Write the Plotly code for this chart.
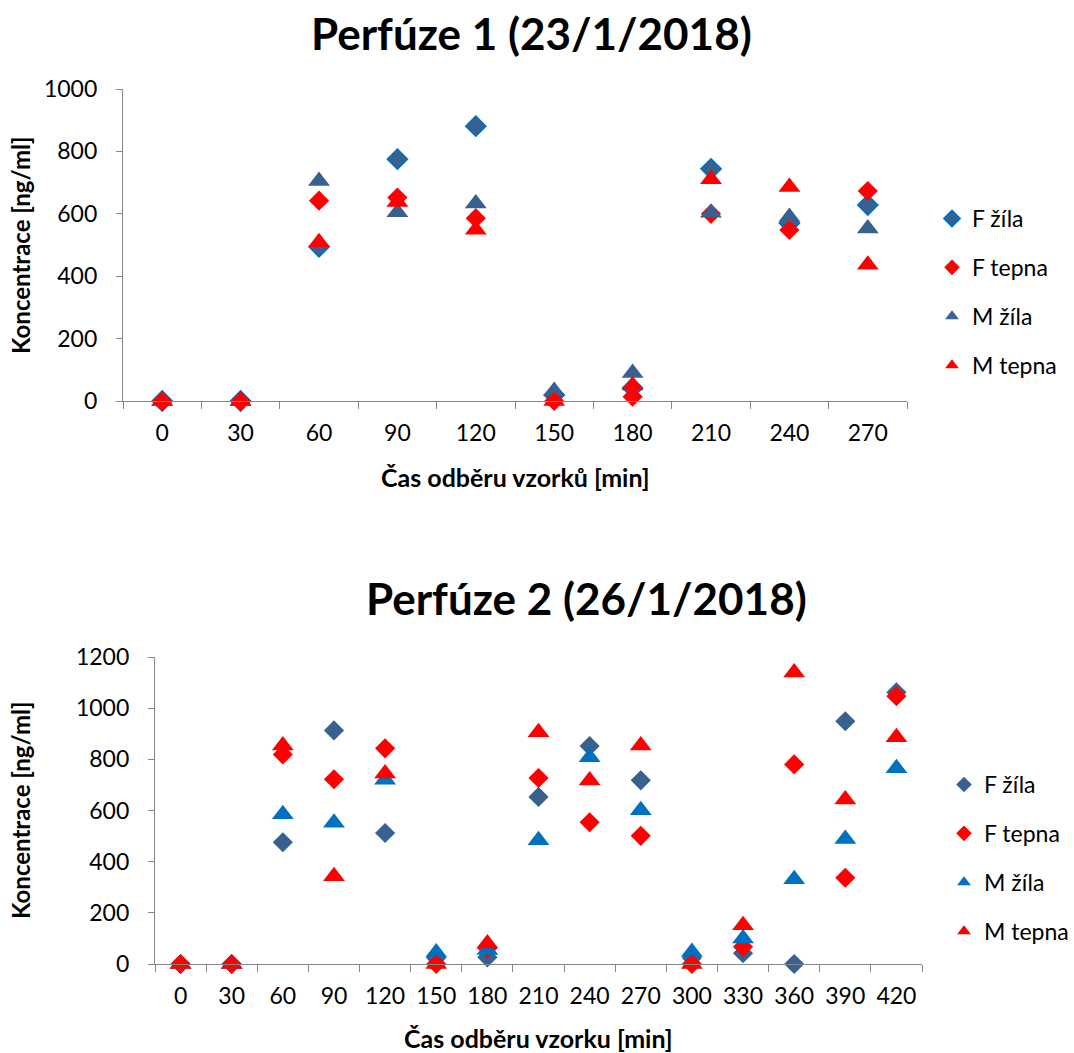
import plotly.graph_objects as go

# ---- Perfúze 1 (23/1/2018) ----
times_1 = ["0", "30", "60", "90", "120", "150", "180", "210", "240", "270"]
f_zila_1 = [0, 0, 494, 775, 881, 19, 42, 744, 570, 628]
f_tepna_1 = [0, 0, 642, 652, 586, 0, 14, 600, 548, 673]
m_zila_1 = [0, 0, 705, 605, 633, 32, 90, 603, 590, 553]
m_tepna_1 = [0, 0, 509, 638, 549, 0, 50, 711, 686, 437]

# ---- Perfúze 2 (26/1/2018) ----
times_2 = ["0", "30", "60", "90", "120", "150", "180", "210", "240", "270",
           "300", "330", "360", "390", "420"]
f_zila_2 = [0, 0, 476, 913, 512, 23, 26, 653, 852, 718, 23, 42, 0, 949, 1062]
f_tepna_2 = [0, 0, 819, 722, 843, 0, 62, 727, 554, 501, 0, 67, 780, 337, 1047]
m_zila_2 = [0, 0, 585, 552, 720, 45, 55, 484, 808, 601, 47, 100, 331, 489, 765]
m_tepna_2 = [0, 0, 854, 343, 745, 0, 80, 906, 717, 854, 0, 151, 1139, 643, 886]

W, H = 1074, 1053
FONT = "Lato"
AXIS_GREY = "#868686"
DARK_BLUE = "#38618F"
BRIGHT_BLUE = "#0070C0"
RED = "#FF0000"
DIAMOND = 15.5
TRIANGLE = 19


def fx(px):
    return px / W


def fy(px):
    return 1 - px / H


fig = go.Figure()

top_series = [
    ("F žíla", f_zila_1, dict(symbol="diamond", size=DIAMOND, color=DARK_BLUE,
                              line=dict(color=BRIGHT_BLUE, width=1.5))),
    ("F tepna", f_tepna_1, dict(symbol="diamond", size=DIAMOND, color=RED,
                                line=dict(width=0))),
    ("M žíla", m_zila_1, dict(symbol="triangle-up", size=TRIANGLE, color=DARK_BLUE,
                              line=dict(width=0))),
    ("M tepna", m_tepna_1, dict(symbol="triangle-up", size=TRIANGLE, color=RED,
                                line=dict(width=0))),
]
for name, vals, mk in top_series:
    fig.add_trace(go.Scatter(
        x=times_1, y=vals, mode="markers", name=name, marker=mk,
        xaxis="x", yaxis="y", legend="legend", legendgroup="p1_" + name,
        cliponaxis=False,
    ))

bottom_series = [
    ("F žíla", f_zila_2, dict(symbol="diamond", size=DIAMOND, color=DARK_BLUE,
                              line=dict(width=0))),
    ("F tepna", f_tepna_2, dict(symbol="diamond", size=DIAMOND, color=RED,
                                line=dict(width=0))),
    ("M žíla", m_zila_2, dict(symbol="triangle-up", size=TRIANGLE, color=BRIGHT_BLUE,
                              line=dict(width=0))),
    ("M tepna", m_tepna_2, dict(symbol="triangle-up", size=TRIANGLE, color=RED,
                                line=dict(width=0))),
]
for name, vals, mk in bottom_series:
    fig.add_trace(go.Scatter(
        x=times_2, y=vals, mode="markers", name=name, marker=mk,
        xaxis="x2", yaxis="y2", legend="legend2", legendgroup="p2_" + name,
        cliponaxis=False,
    ))

x_common = dict(
    type="category", showgrid=False, zeroline=False, showline=True,
    linecolor=AXIS_GREY, linewidth=1.3, ticks="outside", tickson="boundaries",
    ticklen=7, tickwidth=1.3, tickcolor=AXIS_GREY,
    tickfont=dict(family=FONT, size=23, color="black"), ticklabelstandoff=11,
    fixedrange=True, automargin=False,
)
y_common = dict(
    showgrid=False, zeroline=False, showline=True, linecolor=AXIS_GREY,
    linewidth=1.3, ticks="outside", ticklen=6, tickwidth=1.3,
    tickcolor=AXIS_GREY, tickfont=dict(family=FONT, size=23, color="black"),
    ticklabelstandoff=14, dtick=200, fixedrange=True, automargin=False,
)

legend_common = dict(
    xanchor="left", yanchor="top", font=dict(family=FONT, size=23, color="black"),
    tracegroupgap=16, bgcolor="rgba(0,0,0,0)", itemsizing="constant",
)

fig.update_layout(
    width=W, height=H, autosize=False,
    margin=dict(l=0, r=0, t=0, b=0, pad=0, autoexpand=False),
    paper_bgcolor="white", plot_bgcolor="white",
    font=dict(family=FONT, color="black"),
    xaxis=dict(x_common, domain=[fx(123), fx(907)], anchor="y",
               range=[-0.5, len(times_1) - 0.5]),
    yaxis=dict(y_common, domain=[fy(401), fy(89)], anchor="x", range=[0, 1000]),
    xaxis2=dict(x_common, domain=[fx(155), fx(922)], anchor="y2",
                range=[-0.5, len(times_2) - 0.5]),
    yaxis2=dict(y_common, domain=[fy(964), fy(657)], anchor="x2", range=[0, 1200]),
    legend=dict(legend_common, x=fx(932), y=fy(197)),
    legend2=dict(legend_common, x=fx(944), y=fy(763)),
    showlegend=True,
)

annotations = [
    dict(text="<b>Perfúze 1 (23/1/2018)</b>", x=fx(531), y=fy(33),
         font=dict(size=44)),
    dict(text="<b>Perfúze 2 (26/1/2018)</b>", x=fx(586), y=fy(598),
         font=dict(size=44)),
    dict(text="<b>Čas odběru vzorků [min]</b>", x=fx(515), y=fy(477),
         font=dict(size=25)),
    dict(text="<b>Čas odběru vzorku [min]</b>", x=fx(538), y=fy(1038),
         font=dict(size=25)),
    dict(text="<b>Koncentrace [ng/ml]</b>", x=fx(20), y=fy(245),
         font=dict(size=24), textangle=-90),
    dict(text="<b>Koncentrace [ng/ml]</b>", x=fx(20), y=fy(810),
         font=dict(size=24), textangle=-90),
]
for a in annotations:
    a.update(xref="paper", yref="paper", showarrow=False,
             xanchor="center", yanchor="middle")
    a["font"].update(family=FONT, color="black")
fig.update_layout(annotations=annotations)

fig.write_html("out.html")
